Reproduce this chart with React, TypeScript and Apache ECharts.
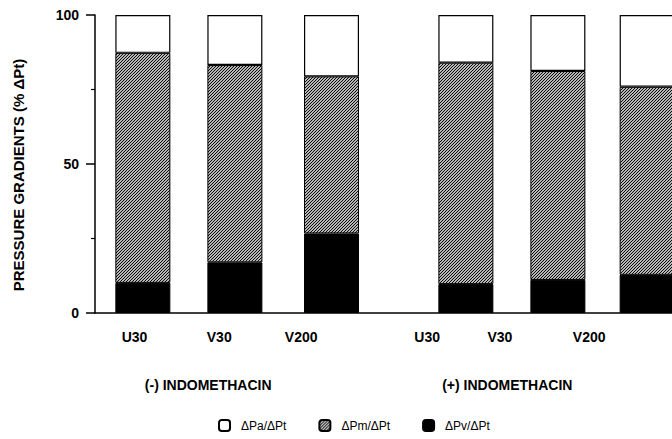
import React, { useEffect, useRef } from "react";
import * as echarts from "echarts";

// Data
const barLabels = ["U30", "V30", "V200", "U30", "V30", "V200"];
const barPositions = [0.52, 1.52, 2.57, 4.03, 5.03, 6.0];
const labelPositions = [0.43, 1.35, 2.24, 3.61, 4.4, 5.37];
const groupLabels = ["(-) INDOMETHACIN", "(+) INDOMETHACIN"];
const groupPositions = [1.23, 4.48];
const pvValues = [10.1, 17.0, 26.7, 9.7, 11.1, 12.8];
const pmValues = [77.2, 66.2, 52.7, 74.3, 70.1, 63.1];
const paValues = [12.7, 16.8, 20.6, 16.0, 18.8, 24.1];
const seriesNames = ["ΔPa/ΔPt", "ΔPm/ΔPt", "ΔPv/ΔPt"];
const yTicks = [0, 50, 100];

const FONT = "Liberation Sans";

function makeHatch(): HTMLCanvasElement {
  const s = 3;
  const c = document.createElement("canvas");
  c.width = s;
  c.height = s;
  const ctx = c.getContext("2d")!;
  ctx.fillStyle = "#fff";
  ctx.fillRect(0, 0, s, s);
  ctx.strokeStyle = "#000";
  ctx.lineWidth = 1.1;
  ctx.beginPath();
  ctx.moveTo(-1, s + 1);
  ctx.lineTo(s + 1, -1);
  ctx.moveTo(-1, 1);
  ctx.lineTo(1, -1);
  ctx.moveTo(s - 1, s + 1);
  ctx.lineTo(s + 1, s - 1);
  ctx.stroke();
  return c;
}

export default function App() {
  const ref = useRef<HTMLDivElement>(null);
  useEffect(() => {
    if (!ref.current) return;
    const chart = echarts.init(ref.current, null, { renderer: "svg" });
    const hatch = { image: makeHatch(), repeat: "repeat" } as any;
    const xMin = 0;
    const xMax = 6.27;
    // value first, position second, so that stacking acts on the value dimension
    const pair = (vals: number[]) => vals.map((v, i) => [v, barPositions[i]]);
    const barCommon = {
      type: "bar",
      stack: "total",
      barWidth: 55,
      xAxisIndex: 0,
      yAxisIndex: 0,
      encode: { x: 1, y: 0 },
    };
    chart.setOption({
      animation: false,
      backgroundColor: "#fff",
      grid: { left: 95, right: 0, top: 15, bottom: 126, outerBoundsMode: "none" },
      legend: {
        data: seriesNames,
        left: 218,
        top: 419,
        padding: 0,
        itemWidth: 11,
        itemHeight: 11,
        itemGap: 32,
        textStyle: { fontFamily: FONT, fontSize: 12, color: "#000", padding: [0, 0, 0, 6] },
      },
      xAxis: [
        {
          type: "value",
          min: xMin,
          max: xMax,
          axisLine: { show: true, onZero: false, lineStyle: { color: "#000", width: 1.5 } },
          axisTick: { show: false },
          axisLabel: { show: false },
          splitLine: { show: false },
        },
        {
          type: "value",
          min: xMin,
          max: xMax,
          position: "bottom",
          axisLine: { show: false },
          axisTick: { show: false },
          splitLine: { show: false },
          axisLabel: {
            customValues: labelPositions,
            formatter: (v: number) => barLabels[labelPositions.indexOf(v)] ?? "",
            margin: 17,
            fontFamily: FONT,
            fontSize: 14,
            fontWeight: "bold",
            color: "#000",
          },
        },
        {
          type: "value",
          min: xMin,
          max: xMax,
          position: "bottom",
          axisLine: { show: false },
          axisTick: { show: false },
          splitLine: { show: false },
          axisLabel: {
            customValues: groupPositions,
            formatter: (v: number) => groupLabels[groupPositions.indexOf(v)] ?? "",
            margin: 65,
            fontFamily: FONT,
            fontSize: 14,
            fontWeight: "bold",
            color: "#000",
          },
        },
      ],
      yAxis: {
        type: "value",
        min: 0,
        max: 100,
        interval: 50,
        axisLine: { show: true, lineStyle: { color: "#000", width: 1.5 } },
        axisTick: { show: true, length: 9, lineStyle: { color: "#000", width: 1.5 } },
        minorTick: { show: true, splitNumber: 2, length: 4, lineStyle: { color: "#000", width: 1.2 } },
        splitLine: { show: false },
        axisLabel: {
          customValues: yTicks,
          margin: 16,
          fontFamily: FONT,
          fontSize: 14,
          fontWeight: "bold",
          color: "#000",
        },
      },
      graphic: [
        {
          type: "text",
          x: 18,
          y: 175,
          rotation: Math.PI / 2,
          style: {
            text: "PRESSURE GRADIENTS (% ΔPt)",
            fontFamily: FONT,
            fontSize: 15,
            fontWeight: "bold",
            fill: "#000",
            align: "center",
            verticalAlign: "middle",
          },
        },
      ],
      series: [
        {
          ...barCommon,
          name: seriesNames[2],
          data: pair(pvValues),
          itemStyle: { color: "#000", borderColor: "#000", borderWidth: 1 },
        },
        {
          ...barCommon,
          name: seriesNames[1],
          data: pair(pmValues),
          itemStyle: { color: hatch, borderColor: "#000", borderWidth: 1 },
        },
        {
          ...barCommon,
          name: seriesNames[0],
          data: pair(paValues),
          itemStyle: { color: "#fff", borderColor: "#000", borderWidth: 1.2 },
        },
      ],
    });
    return () => chart.dispose();
  }, []);
  return <div ref={ref} style={{ width: 672, height: 439, position: "absolute", left: 0, top: 0 }} />;
}
